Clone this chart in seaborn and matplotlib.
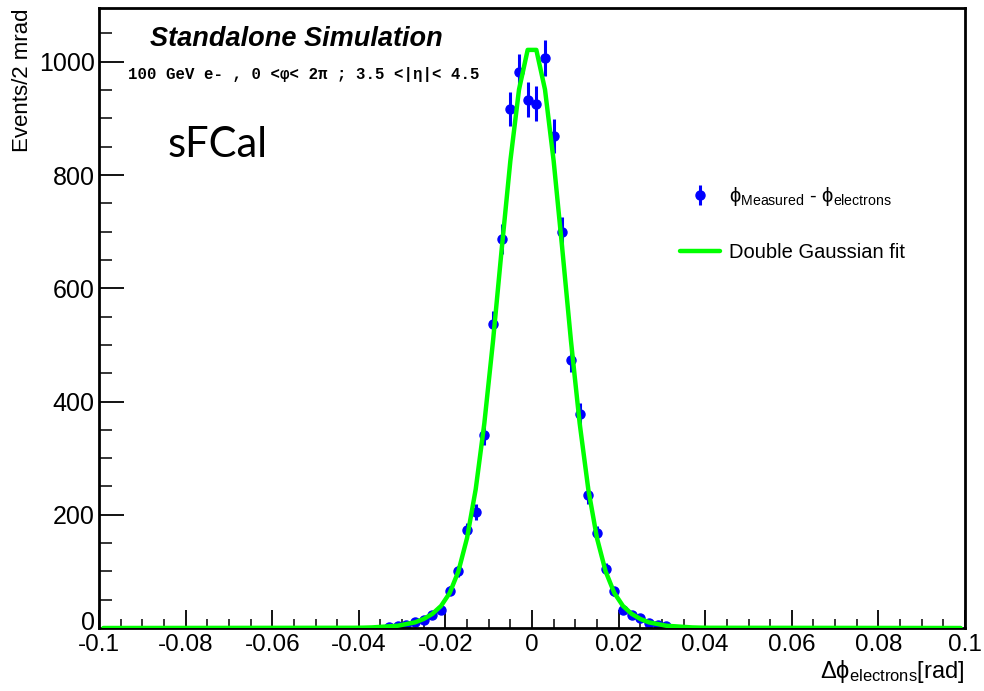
import numpy as np
import pandas as pd
import matplotlib
matplotlib.use("Agg")
import matplotlib.pyplot as plt
import matplotlib.transforms as mtransforms
import seaborn as sns
from matplotlib.lines import Line2D
from matplotlib.ticker import MultipleLocator, FixedLocator

# ---------------- data ----------------
bin_centers = [-0.033, -0.031, -0.029, -0.027, -0.025, -0.023, -0.021, -0.019,
               -0.017, -0.015, -0.013, -0.011, -0.009, -0.007, -0.005, -0.003,
               -0.001, 0.001, 0.003, 0.005, 0.007, 0.009, 0.011, 0.013,
               0.015, 0.017, 0.019, 0.021, 0.023, 0.025, 0.027, 0.029, 0.031]
counts = [2, 3, 6, 11, 15, 23, 32, 66,
          100, 173, 205, 341, 537, 687, 917, 982,
          933, 926, 1007, 869, 700, 473, 378, 235,
          167, 105, 65, 32, 23, 18, 8, 5, 3]

# fit curve values at x = 0.001, 0.003, ..., 0.041 (symmetric), zero elsewhere
fit_half_x = [0.001, 0.003, 0.005, 0.007, 0.009, 0.011, 0.013, 0.015, 0.017,
              0.019, 0.021, 0.023, 0.025, 0.027, 0.029, 0.031, 0.033, 0.035,
              0.037, 0.039, 0.041]
fit_half_y = [1021, 951, 825, 669, 507, 362, 245, 159, 100, 62, 39, 25, 16,
              10, 7, 4, 3, 2, 1, 0.6, 0.4]
fit_edge_x = [-0.099, 0.099]

x_ticks = [-0.1, -0.08, -0.06, -0.04, -0.02, 0.0, 0.02, 0.04, 0.06, 0.08, 0.1]
x_tick_labels = ["-0.1", "-0.08", "-0.06", "-0.04", "-0.02", "0",
                 "0.02", "0.04", "0.06", "0.08", "0.1"]
y_ticks = [0, 200, 400, 600, 800, 1000]
y_tick_labels = ["0", "200", "400", "600", "800", "1000"]

# ---------------- build tables ----------------
fit_x = [fit_edge_x[0]] + [-v for v in fit_half_x[::-1]] + fit_half_x + [fit_edge_x[1]]
fit_y = [0.0] + fit_half_y[::-1] + fit_half_y + [0.0]
fit_df = pd.DataFrame({"x": fit_x, "y": fit_y})
data_df = pd.DataFrame({"x": bin_centers, "n": counts})
data_df["err"] = np.sqrt(data_df["n"])

# ---------------- style ----------------
sns.set_theme(style="white")
plt.rcParams['font.family'] = ['Liberation Sans', 'DejaVu Sans']
plt.rcParams['mathtext.fontset'] = 'custom'
plt.rcParams['mathtext.rm'] = 'Liberation Sans'
plt.rcParams['mathtext.it'] = 'Liberation Sans:italic'
plt.rcParams['mathtext.bf'] = 'Liberation Sans:bold'
plt.rcParams['mathtext.fallback'] = 'stixsans'
plt.rcParams['text.color'] = 'black'

W, H = 984, 691
fig = plt.figure(figsize=(W / 100, H / 100), dpi=100)
ax = fig.add_axes([99 / W, 1 - 628 / H, (965 - 99) / W, (628 - 8) / H])

eb = ax.errorbar(data_df["x"], data_df["n"], yerr=data_df["err"], fmt='o',
                 color='#0000ff', ms=6.5, elinewidth=2.2, capsize=0, zorder=2)
sns.lineplot(data=fit_df, x="x", y="y", color='#00ff00', lw=3.2, ax=ax,
             zorder=3, sort=False, estimator=None)

ax.set_xlim(-0.1, 0.1)
ax.set_ylim(0, 1095)

ax.xaxis.set_major_locator(FixedLocator(x_ticks))
ax.set_xticklabels(x_tick_labels)
ax.xaxis.set_minor_locator(MultipleLocator(0.005))
ax.yaxis.set_major_locator(FixedLocator(y_ticks))
ax.set_yticklabels(y_tick_labels)
ax.yaxis.set_minor_locator(MultipleLocator(50))

ax.tick_params(axis='x', which='major', direction='in', length=13, width=1.3,
               labelsize=17.5, pad=4, color='black', labelcolor='black',
               bottom=True, top=False)
ax.tick_params(axis='x', which='minor', direction='in', length=6.5, width=1.3,
               bottom=True, top=False)
ax.tick_params(axis='y', which='major', direction='in', length=18, width=1.3,
               labelsize=18, pad=3, color='black', labelcolor='black',
               left=True, right=False)
ax.tick_params(axis='y', which='minor', direction='in', length=9, width=1.3,
               left=True, right=False)
for s in ax.spines.values():
    s.set_color('black')
    s.set_linewidth(2.0)

# lift the "0" y label a little, as in the reference
ylabels = ax.get_yticklabels()
ylabels[0].set_transform(ylabels[0].get_transform() +
                         mtransforms.ScaledTranslation(0, 7 / 100, fig.dpi_scale_trans))

ax.set_xlabel(r'$\Delta\mathrm{\phi}_{\mathrm{electrons}}$[rad]', fontsize=17,
              loc='right', labelpad=1.5, color='black')
ax.set_ylabel('Events/2 mrad', fontsize=16, loc='top', labelpad=4,
              color='black')

# annotations
fig.text(150 / W, 1 - 39 / H, 'Standalone Simulation', fontsize=19.5,
         fontweight='bold', fontstyle='italic', va='center', ha='left',
         color='black')
fig.text(128 / W, 1 - 75 / H, '100 GeV e- , 0 <φ< 2π ; 3.5 <|η|< 4.5',
         family=['Liberation Mono', 'DejaVu Sans Mono'], fontweight='bold',
         fontsize=11.3, va='center', ha='left', color='black')
fig.text(168 / W, 1 - 145 / H, 'sFCal', family=['Lato', 'DejaVu Sans'],
         fontsize=30, va='center', ha='left', color='black')

line_handle = Line2D([], [], color='#00ff00', lw=3.2)
leg = ax.legend(handles=[eb, line_handle],
                labels=[r'$\mathrm{\phi}_{\mathrm{Measured}}$ - $\mathrm{\phi}_{\mathrm{electrons}}$',
                        'Double Gaussian fit'],
                loc='upper left', bbox_to_anchor=((680 - 99) / 866, (628 - 185) / 620),
                frameon=False, fontsize=14.5, handlelength=2.0,
                handletextpad=0.45, labelspacing=1.75, borderpad=0,
                borderaxespad=0, labelcolor='black')

fig.savefig('out.png', dpi=100, facecolor='white')
